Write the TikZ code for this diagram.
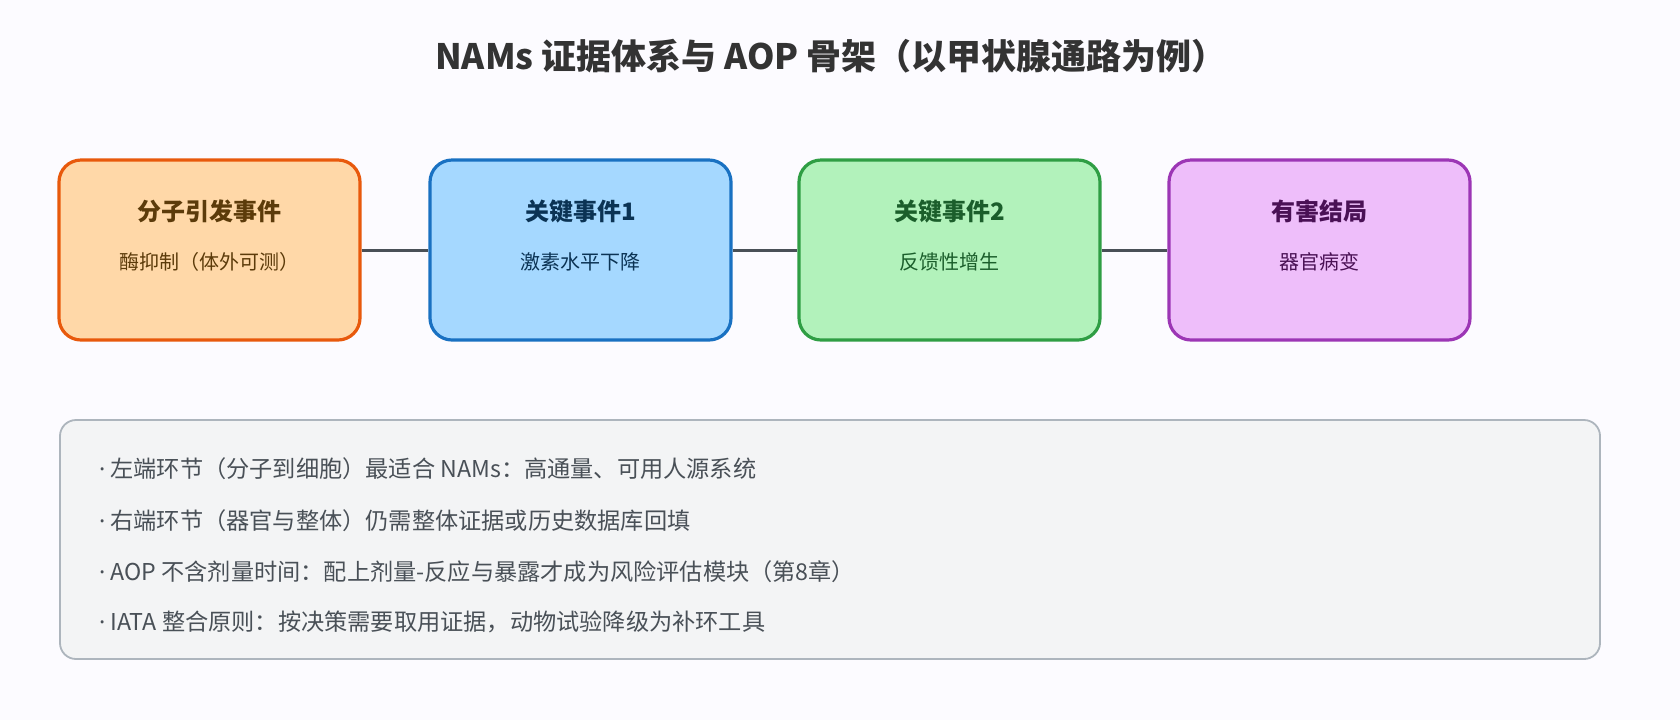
\documentclass[tikz,border=0pt]{standalone}
\usepackage{fontspec}
\setmainfont{Noto Sans CJK SC}
\newfontfamily\latinfont{Noto Sans}
\usetikzlibrary{positioning}
\definecolor{bgc}{HTML}{FCFBFF}
\definecolor{linec}{HTML}{495057}
\definecolor{orfill}{HTML}{FFD8A8}\definecolor{ordraw}{HTML}{E8590C}\definecolor{ortext}{HTML}{5C3B0A}
\definecolor{blfill}{HTML}{A5D8FF}\definecolor{bldraw}{HTML}{1971C2}\definecolor{bltext}{HTML}{0B3354}
\definecolor{grfill}{HTML}{B2F2BB}\definecolor{grdraw}{HTML}{2F9E44}\definecolor{grtext}{HTML}{1B5E2B}
\definecolor{pufill}{HTML}{EEBEFA}\definecolor{pudraw}{HTML}{9C36B5}\definecolor{putext}{HTML}{4A1155}
\definecolor{notefill}{HTML}{F3F4F5}\definecolor{notedraw}{HTML}{ADB5BD}
\newcommand{\bul}{{\latinfont ·}\ }
\tikzset{
  event/.style={draw=#1draw, fill=#1fill, line width=1.6pt, rounded corners=11pt,
    minimum width=150.5pt, minimum height=90pt, inner sep=0pt},
  evtitle/.style={font=\fontsize{12}{14}\selectfont\bfseries},
  evsub/.style={font=\fontsize{10}{12}\selectfont},
  note/.style={anchor=west, text=linec, font=\fontsize{11.6}{14}\selectfont}
}
\begin{document}
\begin{tikzpicture}[x=0.5pt,y=-0.5pt]
\fill[bgc] (0,0) rectangle (1680,720);
\useasboundingbox (0,0) rectangle (1680,720);

\node[font=\fontsize{17.5}{20}\selectfont\bfseries, text=black!80] (title) at (831,56) {NAMs 证据体系与 AOP 骨架（以甲状腺通路为例）};

% chain of events
\node[event=or] (mie) at (209.5,250) {};
\node[event=bl] (ke1) at (580.5,250) {};
\node[event=gr] (ke2) at (949.5,250) {};
\node[event=pu] (ao) at (1319.5,250) {};

\node[evtitle, text=ortext] (mieT) at (209.5,211) {分子引发事件};
\node[evsub, text=ortext] (mieS) at (209.5,262) {酶抑制（体外可测）};
\node[evtitle, text=bltext] (ke1T) at (580.5,211) {关键事件1};
\node[evsub, text=bltext] (ke1S) at (580.5,262) {激素水平下降};
\node[evtitle, text=grtext] (ke2T) at (949.5,211) {关键事件2};
\node[evsub, text=grtext] (ke2S) at (949.5,262) {反馈性增生};
\node[evtitle, text=putext] (aoT) at (1319.5,211) {有害结局};
\node[evsub, text=putext] (aoS) at (1319.5,262) {器官病变};

\draw[linec, line width=1.5pt] (mie) -- (ke1);
\draw[linec, line width=1.5pt] (ke1) -- (ke2);
\draw[linec, line width=1.5pt] (ke2) -- (ao);

% notes
\draw[notedraw, fill=notefill, line width=0.9pt, rounded corners=8pt] (60,420) rectangle (1600,659);
\node[note] (n1) at (92,469) {\bul 左端环节（分子到细胞）最适合 NAMs：高通量、可用人源系统};
\node[note] (n2) at (92,521) {\bul 右端环节（器官与整体）仍需整体证据或历史数据库回填};
\node[note] (n3) at (92,572) {\bul AOP 不含剂量时间：配上剂量-反应与暴露才成为风险评估模块（第8章）};
\node[note] (n4) at (92,622) {\bul IATA 整合原则：按决策需要取用证据，动物试验降级为补环工具};
\end{tikzpicture}
\end{document}
